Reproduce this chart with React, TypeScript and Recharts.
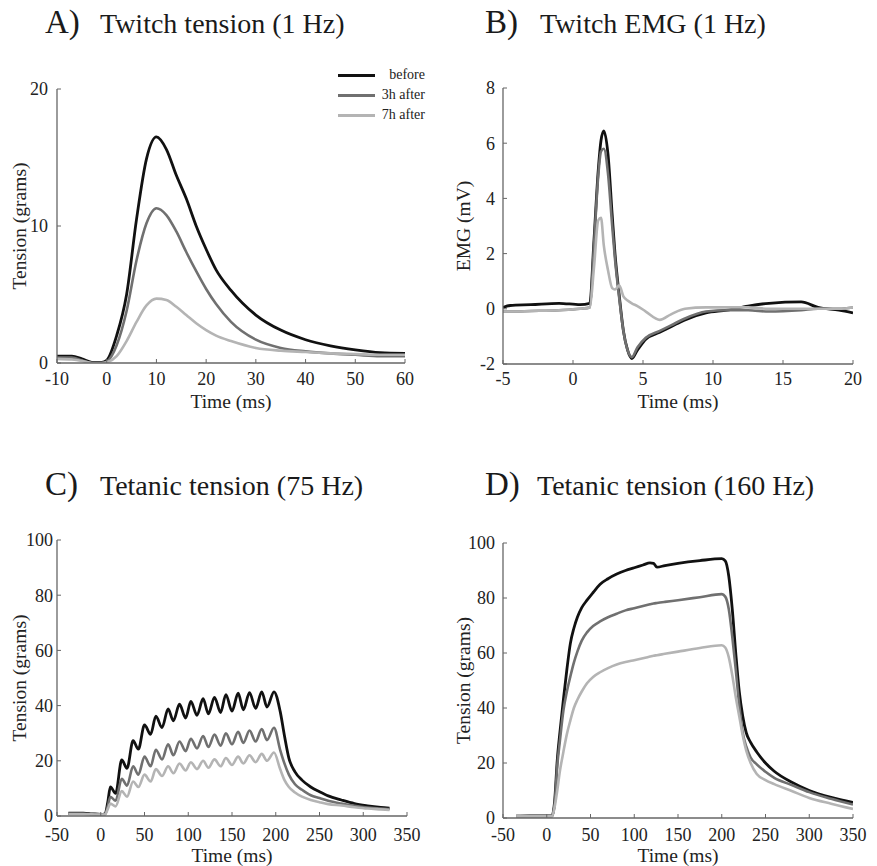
import React from 'react';
import { LineChart, Line, XAxis, YAxis, Legend, Label } from 'recharts';

const FONT = "'Liberation Serif', 'Times New Roman', serif";

// A) twitch tension, 1 Hz
const twitchTime = [-10, -7, -5, -3, -1, 0, 2, 4, 6, 8, 10, 12, 14, 16, 18, 20, 22, 25, 30, 35, 40, 45, 50, 55, 60];
const twitchBefore = [0.5, 0.5, 0.3, 0.05, 0.05, 0.2, 2.0, 5.0, 10.5, 14.9, 16.5, 15.6, 13.7, 12.0, 10.0, 8.3, 6.8, 5.3, 3.5, 2.4, 1.7, 1.25, 0.95, 0.75, 0.7];
const twitchAfter3h = [0.4, 0.4, 0.2, 0.0, 0.0, 0.1, 1.3, 3.8, 7.5, 10.2, 11.3, 10.8, 9.6, 8.1, 6.7, 5.4, 4.3, 3.0, 1.7, 1.1, 0.85, 0.7, 0.6, 0.5, 0.5];
const twitchAfter7h = [0.3, 0.25, 0.15, 0.0, 0.0, 0.05, 0.5, 1.6, 3.0, 4.2, 4.7, 4.6, 4.1, 3.5, 2.9, 2.4, 2.0, 1.6, 1.1, 0.9, 0.8, 0.7, 0.65, 0.6, 0.6];

// B) twitch EMG, 1 Hz
const emgTime = [-5, -4.5, -3, -1, 0.5, 1.2, 1.5, 1.8, 2.0, 2.2, 2.5, 2.8, 3.0, 3.3, 3.6, 3.9, 4.2, 4.6, 5.2, 6.2, 7, 8, 9.5, 11, 12.5, 14, 16.3, 17.5, 19, 20];
const emgBefore = [0.05, 0.12, 0.15, 0.2, 0.15, 0.2, 2.5, 5.0, 6.1, 6.45, 5.6, 3.4, 2.0, 0.5, -0.8, -1.5, -1.8, -1.5, -1.1, -0.85, -0.65, -0.4, -0.15, -0.05, 0.1, 0.2, 0.25, 0.05, -0.05, -0.15];
const emgAfter3h = [-0.1, -0.1, -0.08, -0.05, 0.0, 0.05, 2.3, 4.8, 5.7, 5.8, 4.9, 3.0, 1.8, 0.4, -0.8, -1.5, -1.75, -1.4, -1.05, -0.8, -0.6, -0.35, -0.1, -0.05, -0.05, -0.1, -0.05, 0.0, 0.0, 0.05];
const emgAfter7h = [-0.1, -0.1, -0.08, -0.05, 0.0, 0.05, 1.5, 3.2, 3.3, 2.3, 1.4, 0.75, 0.7, 0.85, 0.45, 0.3, 0.2, 0.1, -0.1, -0.4, -0.2, 0.0, 0.05, 0.05, 0.05, 0.0, 0.0, 0.0, 0.0, 0.05];

// C) tetanic tension, 75 Hz
const tet75Time = [-37, -20, -10, 0, 5, 8, 11, 17, 24, 30, 37, 43, 50, 57, 63, 70, 77, 83, 90, 97, 103, 110, 117, 123, 130, 137, 143, 150, 157, 163, 170, 177, 184, 190, 198, 205, 210, 215, 222, 230, 240, 250, 260, 275, 290, 305, 320, 330];
const tet75Before = [1.0, 1.0, 0.8, 0.6, 0.8, 5, 10.5, 8.2, 20.3, 17.3, 27.3, 24.2, 33, 29.6, 36.2, 32, 38.8, 34.5, 40.5, 35.5, 41.5, 36.5, 42.5, 37, 43, 37.5, 44, 38, 44.5, 38.5, 44.7, 39, 45, 39.5, 45, 38, 29, 21, 16, 13, 10.5, 8.8, 7.3, 5.8, 4.5, 3.7, 3.1, 2.8];
const tet75After3h = [0.8, 0.8, 0.7, 0.6, 0.7, 3.5, 7, 5.5, 13.5, 11, 18, 15, 21.5, 18, 24, 20.5, 26, 22, 27, 23.5, 28, 24.5, 29, 25, 29.5, 25.5, 30, 26, 30.5, 26.5, 31, 27, 31.5, 27.5, 32, 24, 19, 15, 11.5, 9.5, 7.5, 6.5, 5.5, 4.5, 3.7, 3.1, 2.7, 2.5];
const tet75After7h = [0.7, 0.7, 0.6, 0.5, 0.6, 2.5, 4.5, 3.5, 9, 7, 12.5, 10.5, 15, 12.5, 17, 14.5, 18, 15.5, 19, 16.5, 19.5, 17, 20, 17.5, 20.5, 18, 21, 18.5, 21.5, 19, 22, 19.5, 22.5, 20, 23, 17, 13, 10.5, 8.5, 7, 5.8, 5, 4.3, 3.8, 3.2, 2.7, 2.4, 2.2];

// D) tetanic tension, 160 Hz
const tet160Time = [-35, -20, 0, 6, 9, 12, 15, 19, 23, 27, 31, 35, 40, 46, 53, 61, 70, 80, 90, 100, 110, 118, 122, 126, 135, 150, 175, 200, 204, 208, 212, 216, 220, 224, 228, 233, 240, 250, 260, 280, 300, 325, 350];
const tet160Before = [0.7, 0.8, 0.8, 0.8, 6, 21, 31, 43, 54, 63.5, 69, 73, 76.5, 79.2, 82, 85, 87, 88.7, 90, 91, 92, 92.8, 92.6, 91.2, 91.8, 92.6, 93.6, 94.3, 93.5, 88, 76, 60, 46, 37, 31, 27.5, 24, 20, 17, 13, 10, 7.5, 5.7];
const tet160After3h = [0.7, 0.7, 0.7, 0.7, 5, 19, 28, 39, 46, 51.5, 56.5, 60.5, 64.5, 67.5, 69.8, 71.5, 73, 74.3, 75.5, 76.3, 77.1, 77.7, 78, 78.2, 78.6, 79.2, 80.3, 81.4, 80.5, 76, 66, 54, 41, 31, 26, 22, 19.5, 16.8, 14.6, 12, 9.4, 7, 4.9];
const tet160After7h = [0.6, 0.6, 0.6, 0.6, 4, 10, 17, 24, 30.5, 35.5, 40, 43, 46, 49, 51.3, 53, 54.5, 55.8, 56.7, 57.4, 58.1, 58.7, 59, 59.2, 59.7, 60.5, 61.8, 62.8, 62, 58.5, 52, 44, 37, 30, 24.5, 20, 16, 13.8, 12.3, 9.8, 7.3, 5.2, 3.3];

const SERIES = [
  { key: 'before', name: 'before', color: '#111111', width: 2.8 },
  { key: 'after3h', name: '3h after', color: '#707070', width: 2.6 },
  { key: 'after7h', name: '7h after', color: '#b4b4b4', width: 2.6 },
];

function rows(t: number[], b: number[], a3: number[], a7: number[]) {
  return t.map((v, i) => ({ t: v, before: b[i], after3h: a3[i], after7h: a7[i] }));
}

function LegendBox({ payload }: any) {
  const order = SERIES.map((s) => s.name);
  const items = [...(payload || [])].sort((a: any, b: any) => order.indexOf(a.value) - order.indexOf(b.value));
  return (
    <div style={{ fontFamily: FONT, fontSize: 14, color: '#222' }}>
      {items.map((p: any) => (
        <div key={p.value} style={{ display: 'flex', alignItems: 'center', height: 20 }}>
          <div style={{ width: 37, height: 0, borderTop: `3px solid ${p.color}` }} />
          <div style={{ width: 50, textAlign: 'right' }}>{p.value}</div>
        </div>
      ))}
    </div>
  );
}

interface PanelProps {
  box: { left: number; right: number; top: number; bottom: number };
  data: any[];
  xDomain: number[];
  xTicks: number[];
  yDomain: number[];
  yTicks: number[];
  yLabel: string;
  yLabelOffset: number;
  xLabelOffset: number;
  xTickMargin: number;
  yTickMargin: number;
  legend?: boolean;
}

function Panel(p: PanelProps) {
  const yAxisWidth = 55;
  const axisHeight = 60;
  const marginTop = 30;
  const marginRight = 20;
  const left = p.box.left - yAxisWidth;
  const top = p.box.top - marginTop;
  const width = p.box.right - left + marginRight;
  const height = p.box.bottom - top + axisHeight;
  const tickStyle = { fill: '#222', fontSize: 18, fontFamily: FONT };
  return (
    <div style={{ position: 'absolute', left, top }}>
      <LineChart width={width} height={height} data={p.data} margin={{ top: marginTop, right: marginRight, bottom: 0, left: 0 }}>
        <XAxis
          type="number"
          dataKey="t"
          domain={p.xDomain}
          ticks={p.xTicks}
          interval={0}
          allowDataOverflow
          height={axisHeight}
          tickSize={-4}
          tickMargin={p.xTickMargin}
          axisLine={{ stroke: '#666', strokeWidth: 1.3 }}
          tickLine={{ stroke: '#666' }}
          tick={tickStyle}
        >
          <Label value="Time (ms)" position="insideBottom" offset={p.xLabelOffset} fill="#222" fontSize={19.5} />
        </XAxis>
        <YAxis
          type="number"
          domain={p.yDomain}
          ticks={p.yTicks}
          interval={0}
          allowDataOverflow
          width={yAxisWidth}
          tickSize={-4}
          tickMargin={p.yTickMargin}
          axisLine={{ stroke: '#666', strokeWidth: 1.3 }}
          tickLine={{ stroke: '#666' }}
          tick={tickStyle}
        >
          <Label
            value={p.yLabel}
            angle={-90}
            position="insideLeft"
            offset={p.yLabelOffset}
            fill="#222"
            fontSize={19.5}
            style={{ textAnchor: 'middle' }}
          />
        </YAxis>
        {p.legend && (
          <Legend
            layout="vertical"
            align="center"
            verticalAlign="middle"
            content={LegendBox}
            wrapperStyle={{ left: 336, top: 6, width: 'auto' }}
          />
        )}
        {SERIES.map((s) => (
          <Line
            key={s.key}
            type="monotone"
            dataKey={s.key}
            name={s.name}
            stroke={s.color}
            strokeWidth={s.width}
            dot={false}
            activeDot={false}
            isAnimationActive={false}
          />
        ))}
      </LineChart>
    </div>
  );
}

const TITLES = [
  { letter: 'A)', text: 'Twitch tension (1 Hz)', lx: 45, tx: 100, y: 33 },
  { letter: 'B)', text: 'Twitch EMG (1 Hz)', lx: 485, tx: 540, y: 33 },
  { letter: 'C)', text: 'Tetanic tension (75 Hz)', lx: 45, tx: 100, y: 495 },
  { letter: 'D)', text: 'Tetanic tension (160 Hz)', lx: 485, tx: 537, y: 495 },
];

const CSS = `
.recharts-cartesian-axis-tick-value { font-family: ${FONT}; font-size: 18px; }
.recharts-label { font-family: ${FONT}; font-size: 19.5px; }
`;

export default function App() {
  const ticks50 = [-50, 0, 50, 100, 150, 200, 250, 300, 350];
  const ticks100 = [0, 20, 40, 60, 80, 100];
  return (
    <div style={{ position: 'absolute', left: 0, top: 0, width: 877, height: 866, background: '#fff', fontFamily: FONT, overflow: 'hidden' }}>
      <style>{CSS}</style>
      <Panel
        box={{ left: 57, right: 405, top: 89, bottom: 363 }}
        data={rows(twitchTime, twitchBefore, twitchAfter3h, twitchAfter7h)}
        xDomain={[-10, 60]}
        xTicks={[-10, 0, 10, 20, 30, 40, 50, 60]}
        yDomain={[0, 20]}
        yTicks={[0, 10, 20]}
        yLabel="Tension (grams)"
        yLabelOffset={17}
        xLabelOffset={15}
        xTickMargin={13}
        yTickMargin={13}
        legend
      />
      <Panel
        box={{ left: 503, right: 853, top: 88, bottom: 364 }}
        data={rows(emgTime, emgBefore, emgAfter3h, emgAfter7h)}
        xDomain={[-5, 20]}
        xTicks={[-5, 0, 5, 10, 15, 20]}
        yDomain={[-2, 8]}
        yTicks={[-2, 0, 2, 4, 6, 8]}
        yLabel="EMG (mV)"
        yLabelOffset={15}
        xLabelOffset={16}
        xTickMargin={12}
        yTickMargin={12}
      />
      <Panel
        box={{ left: 57, right: 407, top: 540, bottom: 816 }}
        data={rows(tet75Time, tet75Before, tet75After3h, tet75After7h)}
        xDomain={[-50, 350]}
        xTicks={ticks50}
        yDomain={[0, 100]}
        yTicks={ticks100}
        yLabel="Tension (grams)"
        yLabelOffset={17}
        xLabelOffset={14}
        xTickMargin={16}
        yTickMargin={8}
      />
      <Panel
        box={{ left: 503, right: 853, top: 543, bottom: 818 }}
        data={rows(tet160Time, tet160Before, tet160After3h, tet160After7h)}
        xDomain={[-50, 350]}
        xTicks={ticks50}
        yDomain={[0, 100]}
        yTicks={ticks100}
        yLabel="Tension (grams)"
        yLabelOffset={15}
        xLabelOffset={16}
        xTickMargin={14}
        yTickMargin={12}
      />
      <svg width={877} height={866} style={{ position: 'absolute', left: 0, top: 0, pointerEvents: 'none' }}>
        {TITLES.map((t) => (
          <g key={t.letter} fill="#1a1a1a" fontFamily={FONT}>
            <text x={t.lx} y={t.y} fontSize={33}>{t.letter}</text>
            <text x={t.tx} y={t.y} fontSize={28}>{t.text}</text>
          </g>
        ))}
      </svg>
    </div>
  );
}
